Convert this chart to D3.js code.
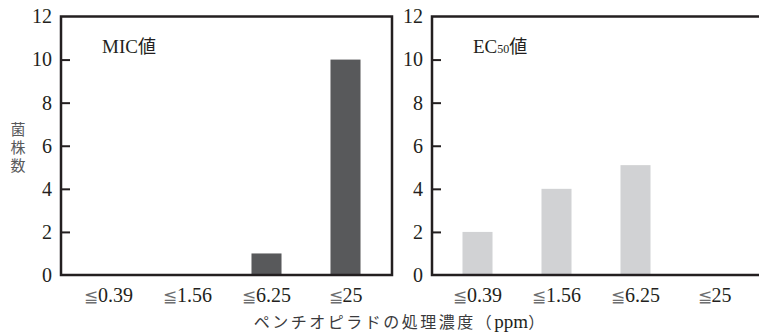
<!DOCTYPE html>
<html>
<head>
<meta charset="utf-8">
<script src="https://cdn.jsdelivr.net/npm/d3@7"></script>
<style>
  body { margin: 0; background: #fff; }
  text { font-family: "Liberation Serif", "DejaVu Serif", serif; fill: #231f20; }
</style>
</head>
<body>
<div id="chart"></div>
<script>
// data
let categories = ['≦0.39', '≦1.56', '≦6.25', '≦25'];
let micValues = [0, 0, 1, 10];
let ec50Values = [2, 4, 5.1, 0];
let yTicks = [0, 2, 4, 6, 8, 10, 12];

let width = 759, height = 334;
let svg = d3.select('#chart').append('svg')
    .attr('width', width)
    .attr('height', height);

let plotTop = 16.5, plotBottom = 275;
let y = d3.scaleLinear().domain([0, 12]).range([plotBottom, plotTop]);

let panels = [
    {x0: 61, x1: 392, values: micValues, color: '#58595b', start: 69, title: 'MIC', sub: '', closed: true},
    {x0: 432, x1: 762, values: ec50Values, color: '#d1d2d4', start: 438, title: 'EC', sub: '50', closed: false}
];

panels.forEach(p => drawPanel(p));

function drawPanel(p) {
    let g = svg.append('g');
    let x = d3.scaleBand()
        .domain(categories)
        .range([p.start, p.start + 316])
        .paddingInner(0.62)
        .paddingOuter(0.31);

    // bars
    g.selectAll('rect')
        .data(p.values)
        .enter().append('rect')
        .attr('x', (d, i) => x(categories[i]))
        .attr('y', d => y(d))
        .attr('width', x.bandwidth())
        .attr('height', d => plotBottom - y(d))
        .attr('fill', p.color);

    // y axis with inward ticks
    let yAxis = d3.axisLeft(y).tickValues(yTicks).tickSize(-9).tickPadding(10);
    let ya = g.append('g')
        .attr('transform', `translate(${p.x0},0)`)
        .call(yAxis);
    ya.select('.domain').remove();
    ya.selectAll('.tick line')
        .attr('stroke', '#231f20')
        .attr('stroke-width', 2)
        .filter(d => d === 0 || d === 12).remove();
    ya.selectAll('.tick text')
        .attr('font-size', 20)
        .attr('dx', 1)
        .style('font-family', '"Liberation Serif", serif');

    // x labels
    let xa = g.append('g')
        .attr('transform', `translate(0,${plotBottom})`)
        .call(d3.axisBottom(x).tickSize(0).tickPadding(13));
    xa.select('.domain').remove();
    xa.selectAll('.tick text')
        .attr('font-size', 20)
        .each(function(d) {
            let t = d3.select(this).text('');
            t.append('tspan').style('fill', '#6d6e70').style('font-family', '"DejaVu Serif", serif')
                .attr('font-size', 17).text('≦');
            t.append('tspan').style('font-family', '"Liberation Serif", serif').text(d.slice(1));
        });

    // frame
    let path = p.closed
        ? `M${p.x0},${plotTop}H${p.x1}V${plotBottom}H${p.x0}Z`
        : `M${p.x1},${plotTop}H${p.x0}V${plotBottom}H${p.x1}`;
    g.append('path')
        .attr('d', path)
        .attr('fill', 'none')
        .attr('stroke', '#231f20')
        .attr('stroke-width', 2.5);

    // panel title
    let t = g.append('text')
        .attr('x', p.x0 + 41)
        .attr('y', 53)
        .attr('font-size', 19);
    t.append('tspan').text(p.title);
    if (p.sub) t.append('tspan').attr('font-size', 12).text(p.sub);
    t.append('tspan').attr('font-size', 18).style('font-family', '"Noto Sans CJK JP", sans-serif').text('値');
}

// y axis title, vertical
svg.append('text')
    .attr('x', 18)
    .attr('y', 122)
    .attr('font-size', 15)
    .style('writing-mode', 'vertical-rl')
    .attr('letter-spacing', 3)
    .style('font-family', '"Noto Sans CJK JP", sans-serif')
    .style('fill', '#58595b')
    .text('菌株数');

// x axis title
let xt = svg.append('text')
    .attr('x', 399)
    .attr('y', 328)
    .attr('text-anchor', 'middle')
    .attr('font-size', 16);
xt.append('tspan').style('font-family', '"Noto Sans CJK JP", sans-serif').style('fill', '#3a3a3c')
    .attr('letter-spacing', 2.5).text('ペンチオピラドの処理濃度（');
xt.append('tspan').attr('font-size', 19).text('ppm');
xt.append('tspan').style('font-family', '"Noto Sans CJK JP", sans-serif').style('fill', '#3a3a3c').text('）');
</script>
</body>
</html>
